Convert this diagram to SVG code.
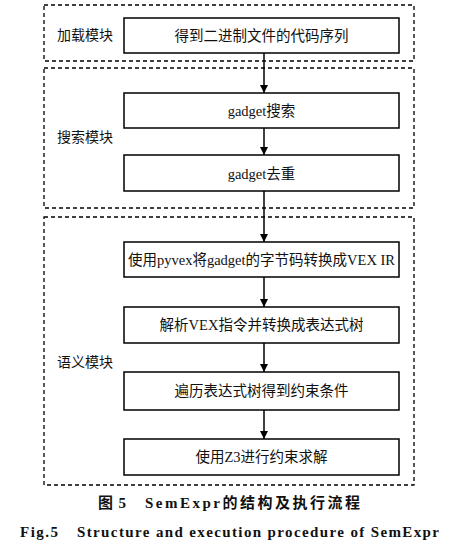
<svg xmlns="http://www.w3.org/2000/svg" width="467" height="550" viewBox="0 0 467 550">
<defs>
<style>
.grp{fill:none;stroke:#000;stroke-width:1.3;stroke-dasharray:4,3}
.box{fill:#fff;stroke:#000;stroke-width:1.5}
.t{font-family:"Liberation Serif","Noto Sans CJK SC",serif;font-size:14.5px;fill:#111;text-anchor:middle;dominant-baseline:central}
.lbl{font-family:"Liberation Serif","Noto Sans CJK SC",serif;font-size:14px;fill:#111;dominant-baseline:central}
.cap{font-family:"Liberation Serif","Noto Sans CJK SC",serif;font-size:15px;font-weight:bold;fill:#111;dominant-baseline:central}
.edge{stroke:#000;stroke-width:1.5;fill:none}
</style>
<marker id="ah" viewBox="0 0 10 10" refX="10" refY="5" markerWidth="8" markerHeight="8" markerUnits="userSpaceOnUse" orient="auto">
<path d="M0,0 L10,5 L0,10 z" fill="#000"/>
</marker>
</defs>
<rect width="467" height="550" fill="#fff"/>
<g id="modules">
<rect class="grp" x="44" y="5" width="370" height="56"/>
<rect class="grp" x="44" y="68" width="370" height="140"/>
<rect class="grp" x="44" y="217" width="370" height="268"/>
<text class="lbl" x="57" y="35">加载模块</text>
<text class="lbl" x="57" y="137">搜索模块</text>
<text class="lbl" x="57" y="362">语义模块</text>
</g>
<g id="edges">
<line class="edge" x1="264" y1="53" x2="264" y2="93" marker-end="url(#ah)"/>
<line class="edge" x1="264" y1="128" x2="264" y2="155" marker-end="url(#ah)"/>
<line class="edge" x1="264" y1="191" x2="264" y2="242" marker-end="url(#ah)"/>
<line class="edge" x1="264" y1="277" x2="264" y2="307" marker-end="url(#ah)"/>
<line class="edge" x1="264" y1="343" x2="264" y2="372" marker-end="url(#ah)"/>
<line class="edge" x1="264" y1="410" x2="264" y2="439" marker-end="url(#ah)"/>
</g>
<g id="n1"><rect class="box" x="124" y="18" width="275" height="35"/><text class="t" x="261.5" y="35.5">得到二进制文件的代码序列</text></g>
<g id="n2"><rect class="box" x="124" y="93" width="275" height="35"/><text class="t" x="261.5" y="111">gadget搜索</text></g>
<g id="n3"><rect class="box" x="124" y="155" width="275" height="36"/><text class="t" x="261.5" y="174">gadget去重</text></g>
<g id="n4"><rect class="box" x="124" y="242" width="275" height="35"/><text class="t" x="261.5" y="260">使用pyvex将gadget的字节码转换成VEX IR</text></g>
<g id="n5"><rect class="box" x="124" y="307" width="275" height="36"/><text class="t" x="261.5" y="325">解析VEX指令并转换成表达式树</text></g>
<g id="n6"><rect class="box" x="124" y="372" width="275" height="38"/><text class="t" x="261.5" y="391">遍历表达式树得到约束条件</text></g>
<g id="n7"><rect class="box" x="124" y="439" width="275" height="36"/><text class="t" x="261.5" y="457">使用Z3进行约束求解</text></g>
<g id="caption">
<text class="cap" x="98" y="503" textLength="28" lengthAdjust="spacing">图 5</text>
<text class="cap" x="145" y="503" textLength="215" lengthAdjust="spacing">SemExpr的结构及执行流程</text>
<text class="cap" x="20" y="532" textLength="38" lengthAdjust="spacing">Fig.5</text>
<text class="cap" x="77" y="532" textLength="362" lengthAdjust="spacing">Structure and execution procedure of SemExpr</text>
</g>
</svg>
